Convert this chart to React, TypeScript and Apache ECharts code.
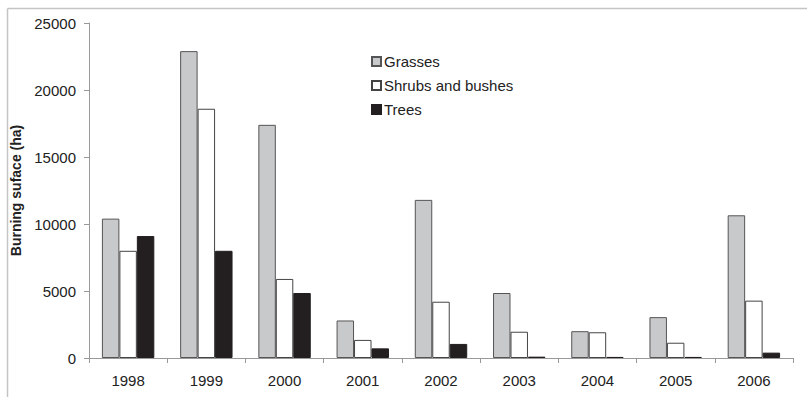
import React, { useEffect, useRef } from "react";
import * as echarts from "echarts";

const years = ["1998", "1999", "2000", "2001", "2002", "2003", "2004", "2005", "2006"];
const grasses = [10400, 22900, 17400, 2800, 11800, 4850, 2000, 3050, 10650];
const shrubs = [8000, 18600, 5900, 1350, 4200, 1960, 1920, 1140, 4280];
const trees = [9100, 8000, 4850, 720, 1050, 100, 80, 80, 400];
const seriesNames = ["Grasses", "Shrubs and bushes", "Trees"];

const FONT = "'Liberation Sans', Arial, sans-serif";

export default function App() {
  const ref = useRef<HTMLDivElement>(null);
  useEffect(() => {
    const chart = echarts.init(ref.current!, null, { renderer: "svg" });
    const bar = (name: string, data: number[], color: string, border: string) => ({
      name,
      type: "bar",
      data,
      barGap: "0%",
      barCategoryGap: "33%",
      itemStyle: { color, borderColor: border, borderWidth: 1 },
    });
    chart.setOption({
      animation: false,
      backgroundColor: "#ffffff",
      textStyle: { fontFamily: FONT },
      grid: { left: 89, right: 14, top: 23, bottom: 39, containLabel: false },
      legend: {
        orient: "vertical",
        left: 371,
        top: 54,
        padding: 0,
        itemWidth: 9,
        itemHeight: 9,
        itemGap: 9,
        icon: "rect",
        data: seriesNames,
        textStyle: { fontFamily: FONT, fontSize: 15, color: "#222", padding: [0, 0, 0, -2] },
      },
      xAxis: {
        type: "category",
        data: years,
        axisLine: { lineStyle: { color: "#999", width: 1 } },
        axisTick: { show: true, alignWithLabel: false, length: 5, lineStyle: { color: "#999" } },
        axisLabel: { color: "#222", fontSize: 15, margin: 15, fontFamily: FONT },
      },
      yAxis: {
        type: "value",
        min: 0,
        max: 25000,
        interval: 5000,
        name: "Burning suface (ha)",
        nameLocation: "middle",
        nameGap: 62,
        nameTextStyle: { fontWeight: "bold", fontSize: 14, color: "#222", fontFamily: FONT },
        axisLine: { show: true, lineStyle: { color: "#999", width: 1 } },
        axisTick: { show: true, length: 5, lineStyle: { color: "#999" } },
        axisLabel: { color: "#222", fontSize: 15, margin: 13, fontFamily: FONT, formatter: (v: number) => String(v) },
        splitLine: { show: false },
      },
      graphic: [
        { type: "line", shape: { x1: 7.5, y1: 8.5, x2: 807, y2: 8.5 }, style: { stroke: "#c4c4c4", lineWidth: 1.5 } },
        { type: "line", shape: { x1: 7.5, y1: 8.5, x2: 7.5, y2: 397 }, style: { stroke: "#c4c4c4", lineWidth: 1.5 } },
      ],
      series: [
        bar(seriesNames[0], grasses, "#c8c9cb", "#555555"),
        bar(seriesNames[1], shrubs, "#ffffff", "#444444"),
        bar(seriesNames[2], trees, "#231f20", "#231f20"),
      ],
    });
    return () => chart.dispose();
  }, []);
  return <div ref={ref} style={{ width: 807, height: 397, position: "absolute", left: 0, top: 0 }} />;
}
